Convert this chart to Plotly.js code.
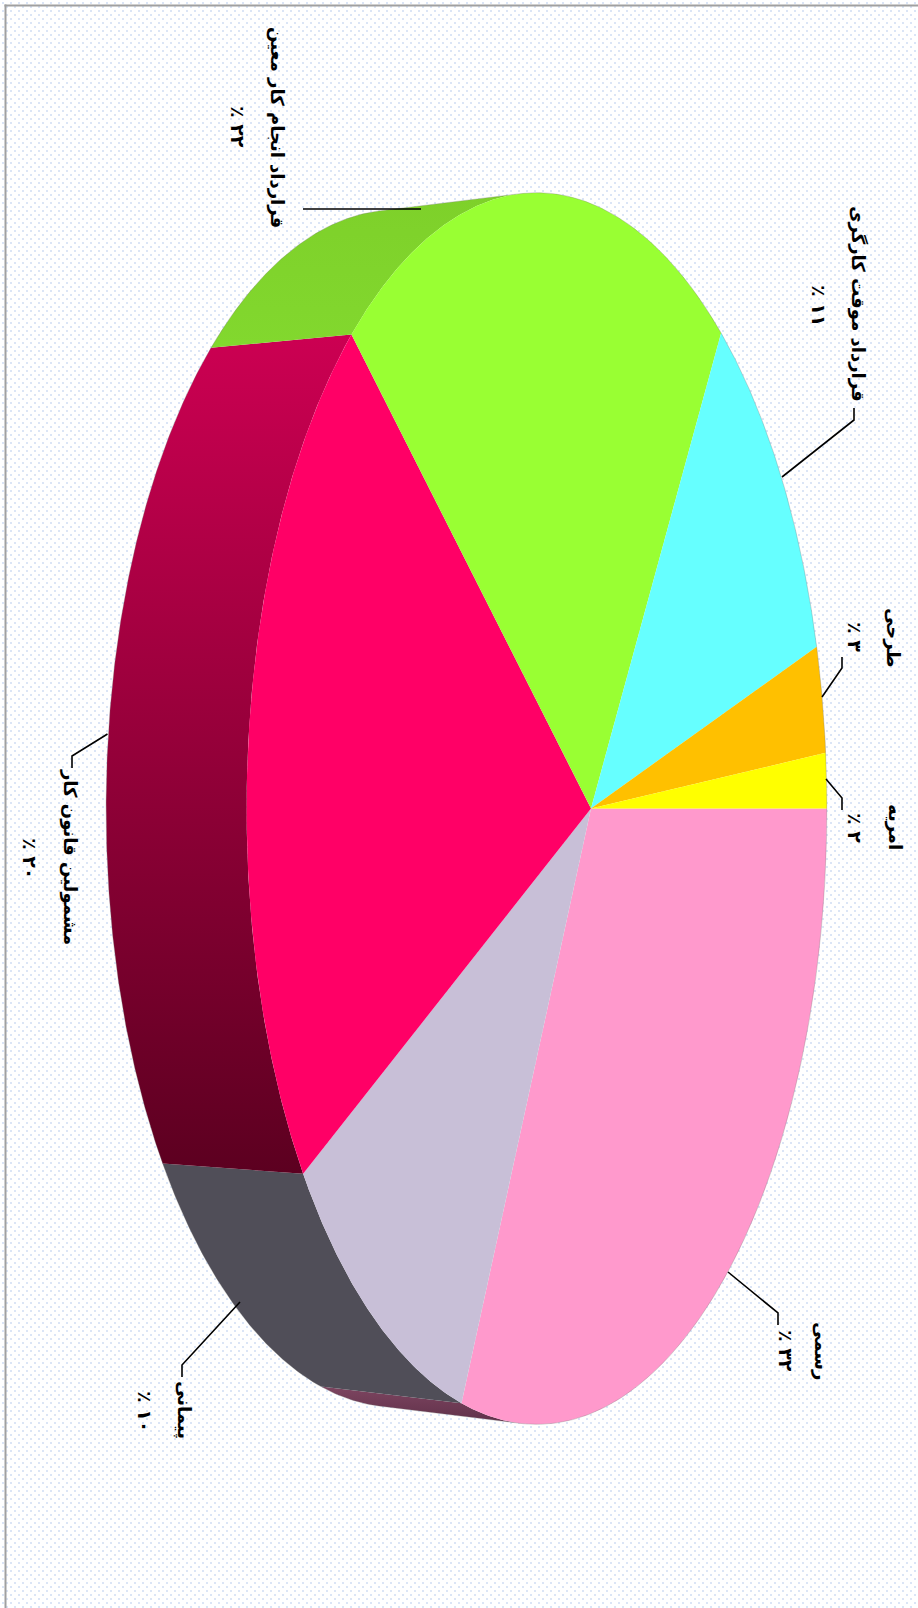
<!DOCTYPE html>
<html><head><meta charset="utf-8">
<script src="https://cdn.plot.ly/plotly-3.0.1.min.js"></script>
<style>
html,body{margin:0;padding:0;width:918px;height:1608px;overflow:hidden;background:#fff;}
#bg{position:absolute;left:0;top:0;width:918px;height:1608px;
background-image:radial-gradient(circle at 1px 1px,#dbe5f6 0,#dbe5f6 1px,transparent 1.4px),radial-gradient(circle at 1px 1px,#dbe5f6 0,#dbe5f6 1px,transparent 1.4px);
background-size:8px 8px;background-position:2px 2px,6px 6px;}
#chart{position:absolute;left:0;top:0;width:918px;height:1608px;}
</style></head><body>
<div id="bg"></div><div id="chart"></div>
<script>
// Data
const categories = ['رسمی','پیمانی','مشمولین قانون کار','قرارداد انجام کار معین','قرارداد موقت کارگری','طرحی','امریه'];
const percentLabels = ['٪ ۳۲','٪ ۱۰','٪ ۲۰','٪ ۲۲','٪ ۱۱','٪ ۳','٪ ۲'];
const values = [32, 9.55, 20.25, 21.7, 11.4, 3.36, 1.74];

// Style
const topColors = ['#ff99cc','#c8bfd7','#ff0066','#99ff33','#66ffff','#ffc000','#ffff00'];
const wallColors = [
  ['#7d4560','#5f3049'], ['#504e58','#504e58'], ['#cc0052','#5c0020'],
  ['#7ed02a','#82d82e'], ['#52cccc','#52cccc'], ['#cc9a00','#cc9a00'], ['#cccc00','#cccc00']
];
// Projection of the tilted disc on the page
const G = {cx:591, cy:808.5, b:280, c:605, k:0.187, wallDx:-140.5, wallSy:0.972};
function proj(t, bottom){
  const u=Math.cos(t), v=Math.sin(t), d=1+G.k*u;
  let X=G.cx+G.b*u/d, Y=G.cy+G.c*v/d;
  if(bottom){ X+=G.wallDx; Y=G.cy+(Y-G.cy)*G.wallSy; }
  return [X,Y];
}
function wallVisible(t){
  const a=proj(t,false), b=proj(t,true), c=proj(t+0.001,false);
  return (b[0]-a[0])*(c[1]-a[1])-(b[1]-a[1])*(c[0]-a[0])>0;
}
const total = values.reduce((a,b)=>a+b,0);
const traces=[], faces=[];
let acc=0;
values.forEach((val,i)=>{
  const t0=acc/total*2*Math.PI, t1=(acc+val)/total*2*Math.PI; acc+=val;
  const n=Math.max(8,Math.round(val*14));
  const ts=[]; for(let j=0;j<=n;j++) ts.push(t0+(t1-t0)*j/n);
  const topArc=ts.map(t=>proj(t,false));
  const vis=ts.filter(wallVisible);
  if(vis.length>1){
    const vt=vis.map(t=>proj(t,false)), vb=vis.map(t=>proj(t,true)).reverse();
    const wall=vt.concat(vb); wall.push(vt[0]);
    const wy=wall.map(p=>p[1]);
    traces.push({type:'scatter',mode:'lines',x:wall.map(p=>p[0]),y:wy,fill:'toself',line:{width:0},hoverinfo:'skip',showlegend:false,name:categories[i],
      fillgradient:{type:'vertical',colorscale:[[0,wallColors[i][0]],[1,wallColors[i][1]]],start:Math.min(...wy),stop:Math.max(...wy)}});
  }
  const f=[[G.cx,G.cy]].concat(topArc,[[G.cx,G.cy]]);
  faces.push({type:'scatter',mode:'lines',x:f.map(p=>p[0]),y:f.map(p=>p[1]),fill:'toself',fillcolor:topColors[i],line:{width:0},name:categories[i],showlegend:false,hoverinfo:'name'});
});
// Soft outline of the whole shape
const outline=[];
const N=1440, tsAll=[]; for(let j=0;j<=N;j++) tsAll.push(j/N*2*Math.PI);
tsAll.filter(wallVisible).forEach(t=>outline.push(proj(t,true)));
const topPart=tsAll.filter(t=>!wallVisible(t));
const afterLeft=topPart.filter(t=>t>Math.PI), beforeLeft=topPart.filter(t=>t<Math.PI);
afterLeft.concat(beforeLeft).forEach(t=>outline.push(proj(t,false)));
outline.push(outline[0]);
const edge={type:'scatter',mode:'lines',x:outline.map(p=>p[0]),y:outline.map(p=>p[1]),line:{color:'rgba(120,120,120,0.3)',width:1},hoverinfo:'skip',showlegend:false};

const labelPos=[[822,1351],[184,1410],[70,857],[277,127],[858,304],[893,637],[895,827]];
const pctPos=[[786,1351],[145,1411],[30,858],[238,127],[819,305],[855,637],[855,828]];
const font={family:'"DejaVu Sans",sans-serif',size:18,color:'#000'};
const pctFont={family:'"DejaVu Sans",sans-serif',size:19,color:'#000'};
const ann=[];
categories.forEach((c,i)=>{
  ann.push({x:labelPos[i][0],y:labelPos[i][1],xref:'x',yref:'y',text:'<b>'+c+'</b>',showarrow:false,textangle:90,font:font,xanchor:'center',yanchor:'middle'});
  ann.push({x:pctPos[i][0],y:pctPos[i][1],xref:'x',yref:'y',text:'<b>'+percentLabels[i]+'</b>',showarrow:false,textangle:90,font:pctFont,xanchor:'center',yanchor:'middle'});
});
const leaders=[
 'M728,1272L778,1313L778,1325','M240,1302L182,1365L182,1377','M107.5,734L72,756L72,768',
 'M303,209L421,209','M782,477L854,420L854,408','M822,697L842,668L842,657','M826,779L842,798L842,810'];
const shapes=leaders.map(p=>({type:'path',path:p,xref:'x',yref:'y',line:{color:'#000',width:1.6}}));
shapes.push({type:'rect',xref:'x',yref:'y',x0:4.5,x1:6.5,y0:4.5,y1:1608,fillcolor:'#a0a0a0',line:{width:0}});
shapes.push({type:'rect',xref:'x',yref:'y',x0:4.5,x1:918,y0:4.5,y1:6.5,fillcolor:'#a0a0a0',line:{width:0}});

Plotly.newPlot('chart',traces.concat(faces,[edge]),{
  width:918,height:1608,margin:{l:0,r:0,t:0,b:0},
  paper_bgcolor:'rgba(0,0,0,0)',plot_bgcolor:'rgba(0,0,0,0)',
  xaxis:{range:[0,918],visible:false,fixedrange:true},
  yaxis:{range:[1608,0],visible:false,fixedrange:true},
  annotations:ann,shapes:shapes,showlegend:false
},{displayModeBar:false});
</script></body></html>
